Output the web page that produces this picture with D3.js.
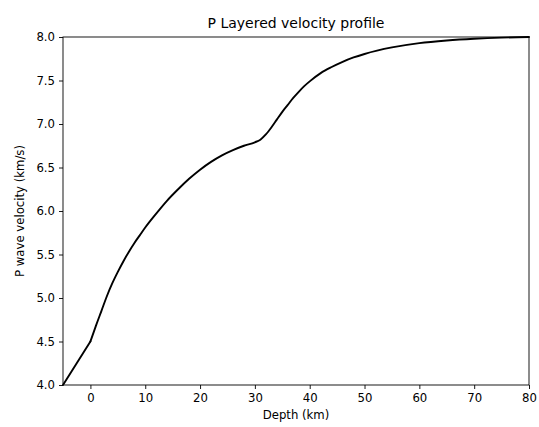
<!DOCTYPE html>
<html><head><meta charset="utf-8">
<script src="https://cdn.jsdelivr.net/npm/d3@7"></script>
<style>body{margin:0;background:#fff}svg{display:block}text{font-family:"DejaVu Sans",sans-serif;fill:#000}</style>
</head><body><div id="chart"></div>
<script>
const depth = [-5, 0, 1, 2, 3, 4, 5, 6, 7, 8, 9, 10, 12, 14, 16, 18, 20, 22, 24, 26, 28, 30, 31, 32, 33, 34, 35, 36, 37, 38, 39, 40, 42, 44, 46, 48, 50, 55, 60, 65, 70, 75, 80];
const velocity = [4.0, 4.5, 4.68, 4.85, 5.02, 5.17, 5.30, 5.42, 5.53, 5.63, 5.72, 5.81, 5.97, 6.12, 6.25, 6.37, 6.475, 6.565, 6.64, 6.70, 6.75, 6.79, 6.82, 6.88, 6.96, 7.05, 7.14, 7.22, 7.30, 7.37, 7.435, 7.49, 7.585, 7.655, 7.715, 7.765, 7.805, 7.88, 7.93, 7.96, 7.98, 7.993, 8.0];
const xTicks = [0, 10, 20, 30, 40, 50, 60, 70, 80];
const yTicks = [4.0, 4.5, 5.0, 5.5, 6.0, 6.5, 7.0, 7.5, 8.0];
const title = "P Layered velocity profile";
const xLabel = "Depth (km)";
const yLabel = "P wave velocity (km/s)";

const W = 539, H = 427;
const m = {left: 63, right: 10, top: 37, bottom: 42};
const svg = d3.select("#chart").append("svg").attr("width", W).attr("height", H);
const x = d3.scaleLinear().domain([-5, 80]).range([m.left, W - m.right]);
const y = d3.scaleLinear().domain([4, 8]).range([H - m.bottom, m.top]);

const data = depth.map((d, i) => [d, velocity[i]]);
const crust = data.filter(d => d[0] <= 0);
const deeper = data.filter(d => d[0] >= 0);
const lineLin = d3.line().x(d => x(d[0])).y(d => y(d[1]));
const lineSmooth = d3.line().x(d => x(d[0])).y(d => y(d[1])).curve(d3.curveMonotoneX);
svg.append("path").datum(crust)
  .attr("fill", "none").attr("stroke", "#000").attr("stroke-width", 1.9).attr("stroke-linecap", "round")
  .attr("d", lineLin);
svg.append("path").datum(deeper)
  .attr("fill", "none").attr("stroke", "#000").attr("stroke-width", 1.9).attr("stroke-linecap", "round")
  .attr("d", lineSmooth);

const xa = svg.append("g").attr("transform", `translate(0,${H - m.bottom})`)
  .call(d3.axisBottom(x).tickValues(xTicks).tickSize(4).tickPadding(4).tickFormat(d3.format("d")));
const ya = svg.append("g").attr("transform", `translate(${m.left},0)`)
  .call(d3.axisLeft(y).tickValues(yTicks).tickSize(4).tickPadding(4).tickFormat(d3.format(".1f")));
[xa, ya].forEach(a => {
  a.selectAll("text").style("font-size", "11.7px").style("font-family", "DejaVu Sans");
  a.select(".domain").remove();
  a.selectAll("line").attr("stroke", "#000").attr("stroke-width", 0.9);
});
xa.selectAll("text").attr("dy", "0.75em");

svg.append("rect").attr("x", m.left).attr("y", m.top)
  .attr("width", W - m.right - m.left).attr("height", H - m.bottom - m.top)
  .attr("fill", "none").attr("stroke", "#000").attr("stroke-width", 0.9);

svg.append("text").attr("x", (m.left + W - m.right) / 2).attr("y", 28)
  .attr("text-anchor", "middle").style("font-size", "14px").text(title);
svg.append("text").attr("x", (m.left + W - m.right) / 2).attr("y", 419)
  .attr("text-anchor", "middle").style("font-size", "11.7px").text(xLabel);
svg.append("text").attr("transform", `translate(24,${(m.top + H - m.bottom) / 2}) rotate(-90)`)
  .attr("text-anchor", "middle").style("font-size", "11.7px").text(yLabel);
</script></body></html>
